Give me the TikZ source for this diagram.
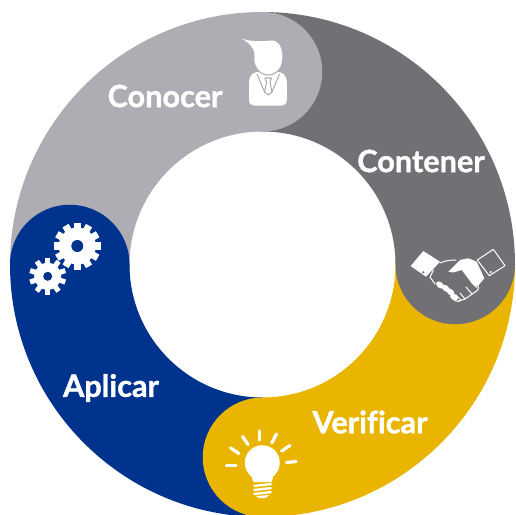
\documentclass[tikz,border=0pt]{standalone}
\usepackage{fontspec}
\setmainfont{Lato}[Ligatures=NoCommon,BoldFeatures={FakeBold=1.2,Ligatures=NoCommon}]
\usetikzlibrary{calc}

\definecolor{conocergray}{RGB}{174,173,179}
\definecolor{contenergray}{RGB}{113,112,116}
\definecolor{verificaryellow}{RGB}{233,181,0}
\definecolor{aplicarblue}{RGB}{0,51,141}

\tikzset{
  steplabel/.style={inner sep=0.75pt,text=white,font=\fontsize{23}{26}\selectfont\bfseries},
  iconfill/.style={fill=white,draw=none},
  iconline/.style={draw=white,line width=0.75pt,line cap=round,line join=round},
  rayline/.style={draw=white,line width=2.4pt,line cap=round},
  tieline/.style={draw=conocergray,line width=0.8pt,line join=round}
}

% one gear: centre, outer radius, root radius, hole radius, teeth, ground colour
\newcommand{\gearicon}[6]{
  \fill[white] (#1) circle (#3);
  \foreach \toothang in {1,...,#5}
    \fill[white,rotate around={\toothang*360/#5:(#1)}]
      ($(#1)+(-0.19*#3,-#2)$) rectangle ($(#1)+(0.19*#3,0)$);
  \fill[#6] (#1) circle (#4);
}

\begin{document}
\begin{tikzpicture}[x=0.75pt,y=0.75pt,yscale=-1]
  \useasboundingbox (0,0) rectangle (515,515);
  \coordinate (ringc) at (262.5,264.5);

  %Shape: ring sectors
  \foreach \startang/\col in {180/conocergray,270/contenergray,0/verificaryellow,90/aplicarblue}
    \fill[\col] ($(ringc)+(\startang:252.5)$) arc[start angle=\startang,delta angle=90,radius=252.5]
      -- ($(ringc)+(\startang+90:133)$) arc[start angle=\startang+90,delta angle=-90,radius=133] -- cycle;
  %Shape: round heads of the sectors
  \foreach \startang/\col in {180/conocergray,270/contenergray,0/verificaryellow,90/aplicarblue}
    \fill[\col] ($(ringc)+(\startang+90:192.75)$) circle (59.75);

  % Text Node
  \node[steplabel] (conocer) at (165,96) {Conocer};
  \node[steplabel] (contener) at (421,161) {Contener};
  \node[steplabel] (aplicar) at (111,388) {Aplicar};
  \node[steplabel] (verificar) at (370,422) {Verificar};

  %Shape: person
  \fill[iconfill,rounded corners=3.5pt] (249,105.5) -- (249,77) -- (255,71.5) -- (281,71.5) -- (286.8,77) -- (286.8,105.5) -- cycle;
  \draw[tieline] (257,74) -- (265,93);
  \draw[tieline] (279.5,74) -- (271.5,93);
  \draw[tieline] (265,78) -- (271.5,78) -- (270,82) -- (272,92) -- (268.3,95) -- (264.6,92) -- (266.5,82) -- cycle;
  \fill[iconfill,draw=conocergray,line width=0.8pt] (268.3,59) circle[x radius=14.5,y radius=16];
  \fill[iconfill] (241.7,38.3) .. controls (250,42) and (262,41.5) .. (270,40.5)
    .. controls (278,40) and (282,45) .. (282.5,58)
    .. controls (276,50) and (262,49) .. (254.5,56)
    .. controls (255,48) and (249,43) .. (241.7,38.3) -- cycle;

  %Shape: handshake
  \fill[iconfill] (423.3,251) -- (440,261.7) -- (426,276.7) -- (410.7,266) -- cycle;
  \fill[contenergray] (423.3,272.3) circle (1.2);
  \draw[iconline] (493.3,249.3) -- (505,265.7) -- (489.3,275.7) -- (477.3,260) -- cycle;
  \fill[iconfill] (490.7,272) circle (1.2);
  \fill[iconfill] (448.3,271.7) -- (460,260) -- (468.3,258.3) -- (476.7,261.7) -- (484.3,278.3) -- (477.3,286.7) -- (471.7,283.3) -- (461.7,270) -- (453.3,272.5) -- cycle;
  \draw[iconline] (440,263) .. controls (447,260) and (452,260) .. (456,260);
  \draw[iconline] (433.5,270) -- (430,277) -- (435,284);
  \draw[iconline] (458,301.5) -- (465,299) -- (478,290) -- (478.5,286.5);
  \draw[iconline] (460,293) -- (465,299);
  \draw[iconline] (466,287) -- (472,294);
  \draw[iconline] (472,283) -- (477,288);
  \draw[iconline] (456,295) -- (461,300) -- (458,301.5) -- (454,300);
  \foreach \bx/\by in {440/285,445.7/288.3,450.5/292,454/297}
    \fill[iconfill,rotate around={38:(\bx,\by)}] (\bx,\by) circle[x radius=4.5,y radius=2.9];

  %Shape: bulb
  \fill[iconfill] (262.3,462.7) circle (17.5);
  \fill[iconfill] (250,472) -- (274.5,472) -- (271.7,482) -- (253.3,482) -- cycle;
  \foreach \ya/\yb in {486/484,490/488,494/492}
    \draw[rayline,line width=1.7pt,line cap=butt] (253.5,\ya) -- (271.5,\yb);
  \fill[iconfill] (256,496) -- (269,495) .. controls (268,499) and (258,499.5) .. (256,496) -- cycle;
  \draw[rayline] (259.3,431) -- (259.3,440);
  \draw[rayline] (242.5,436.5) -- (248,444.5);
  \draw[rayline] (276.5,434) -- (271.7,443);
  \draw[rayline] (290,445.5) -- (281.5,451);
  \draw[rayline] (230.5,448) -- (239,453.5);
  \draw[rayline] (226.5,465.3) -- (236,465.3);
  \draw[rayline] (286.5,462.5) -- (296,461.5);

  %Shape: gears
  \gearicon{77.3,246}{23.5}{18.5}{6}{12}{aplicarblue}
  \gearicon{47.7,276.3}{18.5}{13.5}{4.5}{10}{aplicarblue}
\end{tikzpicture}
\end{document}
